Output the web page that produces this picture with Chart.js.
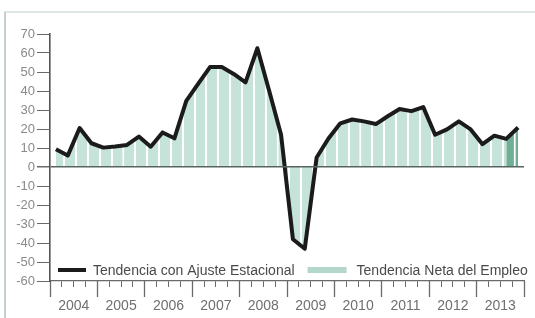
<!DOCTYPE html>
<html><head><meta charset="utf-8">
<script src="https://cdn.jsdelivr.net/npm/chart.js@4/dist/chart.umd.min.js"></script>
<style>
html,body{margin:0;padding:0;background:#fff;}
#wrap{position:relative;width:535px;height:318px;overflow:hidden;}
#frame{position:absolute;left:4px;top:11px;width:600px;height:400px;border-left:2px solid #c3d2ce;border-top:2px solid #dfe7e5;}
canvas{position:absolute;left:0;top:0;}
</style></head><body>
<div id="wrap"><div id="frame"></div><canvas id="c" width="535" height="318"></canvas></div>
<script>
// ---- data ----
const years = ['2004','2005','2006','2007','2008','2009','2010','2011','2012','2013'];
const yTicks = [-60,-50,-40,-30,-20,-10,0,10,20,30,40,50,60,70];
const seasonalTrend = [9.3, 6, 20.5, 12.5, 10.2, 10.8, 11.6, 16, 10.7, 18.2,
  15.1, 34.8, 43.7, 52.6, 52.6, 49, 44.5, 62.5, 40, 17,
  -38, -43, 5, 15, 23, 25, 24, 22.6, 26.7, 30.5,
  29.4, 31.5, 17, 19.8, 24, 19.8, 12, 16.5, 14.8, 20.8];
const netTrend = [9.3, 6, 20.5, 12.5, 10.2, 10.8, 11.6, 16, 10.7, 18.2,
  15.1, 34.8, 43.7, 52.6, 52.6, 49, 44.5, 62.5, 40, 17,
  -38, -43, 5, 15, 23, 25, 24, 22.6, 26.7, 30.5,
  29.4, 31.5, 17, 19.8, 24, 19.8, 12, 16.5, 14.8, 20.8];
const seriesLabels = ['Tendencia con Ajuste Estacional','Tendencia Neta del Empleo'];

// ---- styles ----
const FONT = "'Liberation Sans', Arial, sans-serif";
const FILL = '#c6e3d9';
const DARK = '#70ae96';
const AXIS = '#6a6a6a';

function stripes(chart, color){
  const xs = chart.scales && chart.scales.x;
  if(!chart.chartArea || !xs) return color;
  const w = xs.getPixelForValue(1) - xs.getPixelForValue(0);
  const c = document.createElement('canvas'); c.width = 120; c.height = 4;
  const g = c.getContext('2d');
  g.fillStyle = color; g.fillRect(0,0,120,4);
  g.fillStyle = '#ffffff'; g.fillRect(14,0,20,4);
  const p = chart.ctx.createPattern(c,'repeat');
  p.setTransform(new DOMMatrix([w/120,0,0,1,xs.getPixelForValue(0),0]));
  return p;
}
const toPts = arr => arr.map((v,i)=>({x:i+0.5,y:v}));

const inLegend = {
  id:'inLegend',
  afterDraw(chart){
    const ctx = chart.ctx, a = chart.chartArea, ds = chart.data.datasets;
    const y = a.bottom - 11;
    ctx.save();
    ctx.font = "14px " + FONT;
    ctx.textBaseline = 'middle';
    let x = a.left + 8;
    ctx.strokeStyle = '#1b1b1b'; ctx.lineWidth = 4;
    ctx.beginPath(); ctx.moveTo(x,y); ctx.lineTo(x+28,y); ctx.stroke();
    x += 35;
    ctx.fillStyle = '#4a4a4a';
    ctx.fillText(ds[0].label, x, y+1);
    x += ctx.measureText(ds[0].label).width + 13;
    ctx.fillStyle = '#b4d7cb';
    ctx.fillRect(x, y-3, 39, 6);
    x += 49;
    ctx.fillStyle = '#4a4a4a';
    ctx.fillText(ds[1].label, x, y+1);
    ctx.restore();
  }
};

new Chart(document.getElementById('c'), {
  type:'line',
  data:{datasets:[
    {label:seriesLabels[0], data:toPts(seasonalTrend), borderColor:'#1b1b1b', borderWidth:4,
     pointRadius:0, fill:false, tension:0, order:0, borderJoinStyle:'round'},
    {label:seriesLabels[1], data:toPts(netTrend), borderWidth:0, borderColor:'rgba(0,0,0,0)',
     pointRadius:0, fill:'origin', tension:0, order:1,
     backgroundColor: c => stripes(c.chart, FILL),
     segment:{backgroundColor: c => c.p1DataIndex === netTrend.length-1 ? stripes(c.chart, DARK) : undefined}}
  ]},
  options:{
    responsive:false, animation:false, events:[],
    layout:{padding:{left:0,right:4,top:34,bottom:0}},
    plugins:{legend:{display:false}, tooltip:{enabled:false}},
    scales:{
      x:{type:'linear', min:0, max:40,
        afterFit: s => { s.height = 37; },
        ticks:{stepSize:1, autoSkip:false, maxRotation:0, color:'#6f6f6f',
          font:{family:FONT, size:14}, padding:11,
          callback: v => (v % 4 === 2) ? years[(v-2)/4] : ''},
        grid:{drawOnChartArea:false, tickLength:6, tickColor:AXIS, tickWidth:1},
        border:{color:AXIS, width:1.3}},
      x2:{type:'linear', axis:'x', min:0, max:40, position:{y:-60},
        ticks:{display:false, stepSize:4},
        grid:{drawOnChartArea:false, tickLength:16, tickColor:AXIS, tickWidth:1.3},
        border:{display:false}},
      y:{min:-60, max:70,
        afterFit: s => { s.width = 50; },
        afterBuildTicks: s => { s.ticks = yTicks.map(v => ({value:v})); },
        ticks:{color:'#8a8a8a', font:{family:FONT, size:13}, padding:2},
        grid:{z:1, tickLength:13, tickColor:AXIS,
          color: c => (c.tick && c.tick.value === 0) ? '#56655f' : 'rgba(0,0,0,0)',
          lineWidth: c => (c.tick && c.tick.value === 0) ? 1.5 : 1},
        border:{color:'#555555', width:1.6, z:2}}
    }
  },
  plugins:[inLegend]
});
</script>
</body></html>
